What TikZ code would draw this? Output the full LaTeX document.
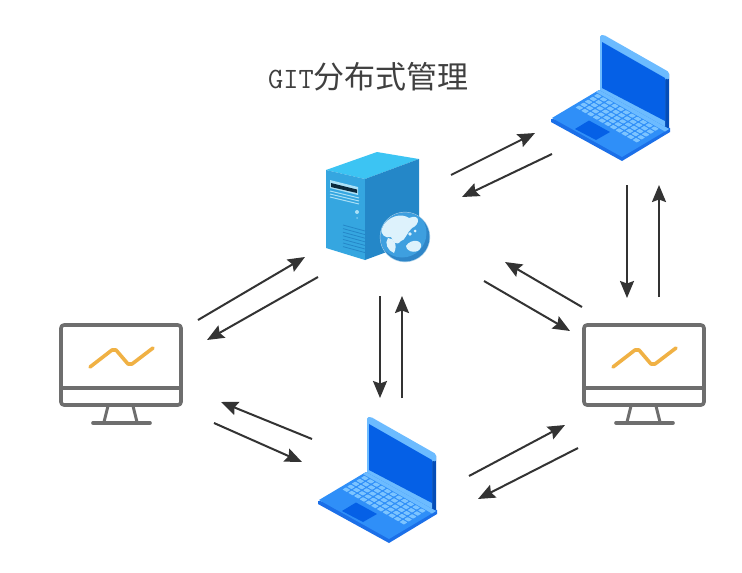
\documentclass[tikz,border=0pt]{standalone}
\usepackage{fontspec}
\newfontfamily\cjkfont{Noto Sans CJK SC}
\definecolor{lapbase}{HTML}{2F8FF8}
\definecolor{lapdark}{HTML}{0560E6}
\definecolor{lapedge}{HTML}{1B6FE8}
\definecolor{lapframe}{HTML}{6CBBFF}
\definecolor{lapkey}{HTML}{7CC4FF}
\definecolor{srvfront}{HTML}{35A6E0}
\definecolor{srvtop}{HTML}{3CC4F3}
\definecolor{srvside}{HTML}{2487C8}
\definecolor{srvlight}{HTML}{A9E0F7}
\definecolor{globeblue}{HTML}{3E9FDF}
\definecolor{globedark}{HTML}{2F86C8}
\definecolor{globeland}{HTML}{DDF2FC}
\definecolor{mongrey}{HTML}{6E6E6E}
\definecolor{monorange}{HTML}{F0B144}
\definecolor{arrowgrey}{HTML}{333333}
\usetikzlibrary{arrows.meta}
\tikzset{
  link/.style={draw=arrowgrey,line width=2pt,-{Stealth[length=17pt,width=14pt,inset=2.5pt]}},
  titletext/.style={inner sep=0pt,text=black!75},
  monline/.style={draw=mongrey,line width=3.6pt,line join=round},
  monitor/.pic={
    \draw[monline,rounded corners=3pt] (61,325) rectangle (181,405);
    \draw[monline] (61,388) -- (181,388);
    \draw[draw=mongrey,line width=3pt] (108,406) -- (104,422);
    \draw[draw=mongrey,line width=3pt] (133,406) -- (137,422);
    \draw[monline,line cap=round] (93,423) -- (150,423);
    \draw[draw=monorange,line width=3.6pt,line cap=round,line join=round]
      (90,367) -- (112,350) -- (116,350) -- (128,364) -- (132,364) -- (153,348);
  },
  laptop/.pic={
    % screen
    \fill[lapdark!80!black] (665,76) -- (669,74) -- (669,130) -- (665,132) -- cycle;
    \fill[lapframe,rounded corners=1.5pt] (600,35) -- (604,35) -- (669,72) -- (669,80) -- (665,78) -- (665,132) -- (600,94) -- cycle;
    \fill[lapdark] (602,42) -- (665,78) -- (665,121) -- (602,88) -- cycle;
    % base
    \fill[lapedge] (551,119) -- (551,122) -- (622,161) -- (670,132) -- (670,128) -- cycle;
    \fill[lapbase] (552,118) -- (599,90) -- (669,129) -- (622,157) -- cycle;
    \fill[lapframe] (599,90) -- (669,129) -- (665,131.5) -- (596,92) -- cycle;
    % keys
    \foreach \i in {0,...,10}{\foreach \j in {0,...,4}{
      \fill[lapkey,rounded corners=.5pt,shift={(575.5+\i*5.7+\j*4.6,107.5+\i*3.25-\j*2.9)}]
        (0,0) -- (4.4,2.5) -- (7.9,.4) -- (3.5,-2.1) -- cycle;
    }}
    % trackpad
    \fill[lapdark] (575,129) -- (589,120.5) -- (610,132) -- (596,140) -- cycle;
  },
}
\begin{document}
\begin{tikzpicture}[x=1pt,y=-1pt]
\useasboundingbox (0,0) rectangle (742,573);
\fill[white] (0,0) rectangle (742,573);

\node[titletext,anchor=west] (title) at (268,77)
  {{\ttfamily\fontsize{29.5pt}{32pt}\selectfont GIT}{\cjkfont\fontsize{31pt}{34pt}\selectfont 分布式管理}};

% server
\fill[srvtop] (326,170) -- (377,152) -- (419,159) -- (365,179) -- cycle;
\fill[srvfront] (326,170) -- (365,179) -- (365,260) -- (326,248) -- cycle;
\fill[srvside] (365,179) -- (419,159) -- (419,240) -- (365,260) -- cycle;
\fill[srvlight] (330,180) -- (358,187) -- (358,195) -- (330,188) -- cycle;
\fill[black!70!srvside] (331,183) -- (357,189.5) -- (357,193) -- (331,187) -- cycle;
\foreach \k in {0,3,6}{
  \draw[srvlight,line width=1pt] (330,191+\k) -- (359,198+\k);
}
\fill[srvlight] (357,212) circle (2pt);
\fill[srvlight!60!srvfront] (357,218) circle (1pt);
\foreach \k in {0,...,6}{
  \draw[srvside,line width=.8pt] (343,225+\k*3.6) -- (365,231+\k*3.6);
}
% globe
\fill[white!60!srvside] (405,237) circle (25.2);
\fill[globedark] (405,237) circle (24.5);
\begin{scope}
  \clip (405,237) circle (24.5);
  \fill[globeblue] (402,233) circle (24.5);
  \fill[globeland] (381,229) .. controls (388,215) and (402,213) .. (409,218) .. controls (421,213) and (420,225) .. (412,228)
     .. controls (407,232) and (405,241) .. (401,241) .. controls (396,247) and (393,241) .. (391,237)
     .. controls (385,239) and (381,234) .. (381,229) -- cycle;
  \fill[globeland] (388,238) .. controls (394,238) and (398,245) .. (394,253) .. controls (388,251) and (384,243) .. (388,238) -- cycle;
  \fill[globeland] (406,246) .. controls (411,238) and (423,240) .. (421,247) .. controls (419,254) and (407,253) .. (406,246) -- cycle;
  \fill[globeland] (410,234) circle (1.8);
  \fill[globeland] (415,231) circle (1.5);
\end{scope}

% laptops and monitors
\pic (lapTR) at (0,0) {laptop};
\pic (lapBM) at (-233,382) {laptop};
\pic (monL) at (0,0) {monitor};
\pic (monR) at (523,0) {monitor};

% arrow end points
\coordinate (a1) at (451,175); \coordinate (a2) at (535,133);
\coordinate (b1) at (552,154); \coordinate (b2) at (462,197);
\coordinate (c1) at (627,185); \coordinate (c2) at (627,298);
\coordinate (d1) at (659,297); \coordinate (d2) at (659,185);
\coordinate (e1) at (582,307); \coordinate (e2) at (505,262);
\coordinate (f1) at (484,281); \coordinate (f2) at (570,331);
\coordinate (g1) at (198,320); \coordinate (g2) at (305,257);
\coordinate (h1) at (318,277); \coordinate (h2) at (207,340);
\coordinate (i1) at (380,296); \coordinate (i2) at (380,398);
\coordinate (j1) at (402,398); \coordinate (j2) at (402,296);
\coordinate (k1) at (312,439); \coordinate (k2) at (221,402);
\coordinate (l1) at (214,423); \coordinate (l2) at (302,462);
\coordinate (m1) at (469,476); \coordinate (m2) at (565,425);
\coordinate (n1) at (578,448); \coordinate (n2) at (478,499);
\foreach \s/\t in {a1/a2,b1/b2,c1/c2,d1/d2,e1/e2,f1/f2,g1/g2,h1/h2,i1/i2,j1/j2,k1/k2,l1/l2,m1/m2,n1/n2}{
  \draw[link] (\s) -- (\t);
}
\end{tikzpicture}
\end{document}
